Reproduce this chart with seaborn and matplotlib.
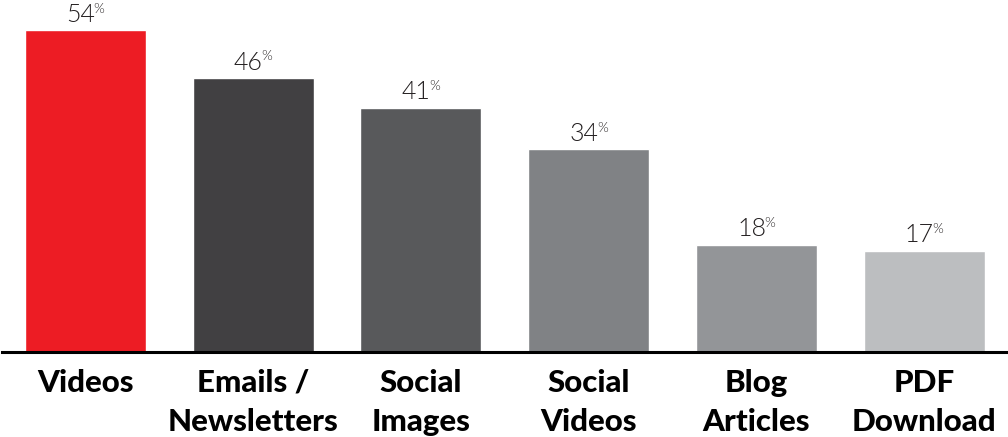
import matplotlib
matplotlib.use("Agg")
import matplotlib.pyplot as plt
import seaborn as sns
import pandas as pd

categories = ["Videos", "Emails /\nNewsletters", "Social\nImages", "Social\nVideos", "Blog\nArticles", "PDF\nDownload"]
values = [54, 46, 41, 34, 18, 17]
colors = ["#ED1C24", "#414042", "#58595B", "#808285", "#939598", "#BCBEC0"]

sns.set_theme(style="white")
plt.rcParams['font.family'] = ['Lato', 'DejaVu Sans']

df = pd.DataFrame({"cat": categories, "val": values})

fig = plt.figure(figsize=(10.08, 4.37), dpi=100)
ax = fig.add_axes([0.0015, 0.1945, 0.9985, 0.791])
sns.barplot(data=df, x="cat", y="val", hue="cat", palette=colors, legend=False,
            width=0.72, saturation=1, ax=ax)

ax.set_xlim(-0.5, 5.5)
ax.set_ylim(0, 58)
ax.set_xlabel("")
ax.set_ylabel("")
ax.set_yticks([])
for s in ["top", "left", "right"]:
    ax.spines[s].set_visible(False)
ax.spines["bottom"].set_color("black")
ax.spines["bottom"].set_linewidth(2.2)
ax.tick_params(axis="x", length=0, pad=12)
for lab in ax.get_xticklabels():
    lab.set_fontsize(22.5)
    lab.set_fontweight("black")
    lab.set_color("black")
    lab.set_linespacing(1.5)

fig.canvas.draw()
renderer = fig.canvas.get_renderer()
for i, v in enumerate(values):
    t1 = ax.annotate(f"{v}", xy=(i, v), xytext=(0, 6), textcoords="offset points",
                     ha="center", va="baseline", fontsize=18, fontweight=300, color="#231F20")
    t2 = ax.annotate("%", xy=(i, v), xytext=(0, 12), textcoords="offset points",
                     ha="left", va="baseline", fontsize=10, fontweight=300, color="#231F20")
    w1 = t1.get_window_extent(renderer).width * 72 / fig.dpi
    w2 = t2.get_window_extent(renderer).width * 72 / fig.dpi
    gap = -1.0
    total = w1 + w2 + gap
    t1.set_position((-total / 2 + w1 / 2, 6))
    t2.set_position((-total / 2 + w1 + gap, 12.5))

fig.savefig("out.png", dpi=100)
